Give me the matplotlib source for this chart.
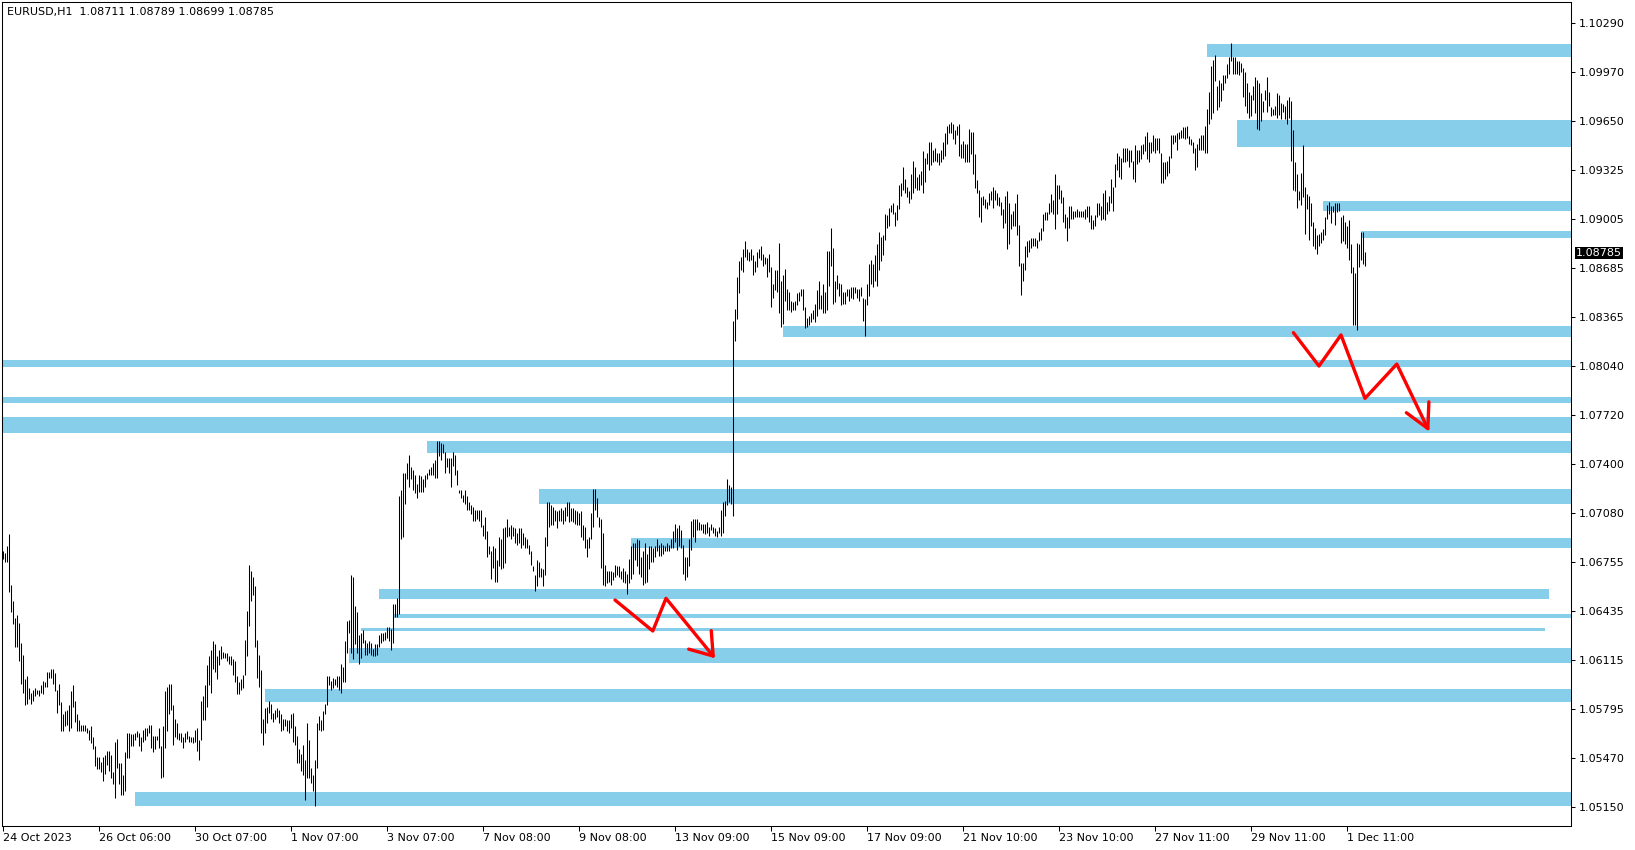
import numpy as np
import matplotlib
matplotlib.use("Agg")
import matplotlib.pyplot as plt
import matplotlib.transforms as mtransforms
from matplotlib.patches import Rectangle, FancyArrowPatch
from matplotlib.path import Path

# EURUSD H1 bars, one per hour from 24 Oct 2023 06:00
highs = [
    1.0683, 1.0682, 1.0686, 1.0694, 1.0661, 1.0650, 1.0639, 1.0641, 1.0636, 1.0623,
    1.0615, 1.0599, 1.0601, 1.0593, 1.0590, 1.0592, 1.0593, 1.0592, 1.0592, 1.0595,
    1.0598, 1.0597, 1.0604, 1.0604, 1.0606, 1.0606, 1.0603, 1.0592, 1.0596, 1.0584,
    1.0576, 1.0578, 1.0579, 1.0582, 1.0591, 1.0595, 1.0585, 1.0576, 1.0572, 1.0569,
    1.0569, 1.0569, 1.0567, 1.0566, 1.0568, 1.0561, 1.0555, 1.0548, 1.0548, 1.0545,
    1.0548, 1.0549, 1.0552, 1.0552, 1.0549, 1.0538, 1.0558, 1.0560, 1.0544, 1.0544,
    1.0536, 1.0551, 1.0564, 1.0564, 1.0563, 1.0563, 1.0564, 1.0565, 1.0564, 1.0561,
    1.0566, 1.0567, 1.0567, 1.0569, 1.0569, 1.0562, 1.0562, 1.0562, 1.0567, 1.0555,
    1.0568, 1.0591, 1.0594, 1.0596, 1.0596, 1.0582, 1.0573, 1.0570, 1.0564, 1.0564,
    1.0561, 1.0564, 1.0565, 1.0562, 1.0561, 1.0561, 1.0566, 1.0567, 1.0559, 1.0585,
    1.0588, 1.0595, 1.0608, 1.0614, 1.0618, 1.0624, 1.0622, 1.0614, 1.0618, 1.0621,
    1.0617, 1.0616, 1.0616, 1.0614, 1.0614, 1.0612, 1.0611, 1.0601, 1.0597, 1.0599,
    1.0602, 1.0625, 1.0644, 1.0674, 1.0670, 1.0666, 1.0660, 1.0625, 1.0615, 1.0605,
    1.0573, 1.0580, 1.0581, 1.0585, 1.0583, 1.0577, 1.0579, 1.0580, 1.0579, 1.0576,
    1.0573, 1.0573, 1.0572, 1.0572, 1.0576, 1.0577, 1.0568, 1.0562, 1.0553, 1.0550,
    1.0556, 1.0546, 1.0570, 1.0559, 1.0541, 1.0536, 1.0546, 1.0570, 1.0575, 1.0572,
    1.0578, 1.0583, 1.0601, 1.0601, 1.0598, 1.0600, 1.0599, 1.0601, 1.0601, 1.0609,
    1.0607, 1.0624, 1.0637, 1.0638, 1.0667, 1.0666, 1.0647, 1.0643, 1.0628, 1.0629,
    1.0631, 1.0625, 1.0623, 1.0624, 1.0623, 1.0619, 1.0622, 1.0622, 1.0628, 1.0629,
    1.0629, 1.0630, 1.0633, 1.0633, 1.0632, 1.0648, 1.0648, 1.0652, 1.0719, 1.0723,
    1.0734, 1.0734, 1.0741, 1.0746, 1.0738, 1.0736, 1.0733, 1.0727, 1.0733, 1.0732,
    1.0730, 1.0733, 1.0734, 1.0737, 1.0738, 1.0741, 1.0743, 1.0755, 1.0755, 1.0754,
    1.0753, 1.0748, 1.0744, 1.0744, 1.0744, 1.0748, 1.0746, 1.0736, 1.0723, 1.0723,
    1.0720, 1.0723, 1.0719, 1.0715, 1.0713, 1.0712, 1.0710, 1.0710, 1.0710, 1.0710,
    1.0700, 1.0705, 1.0696, 1.0686, 1.0683, 1.0686, 1.0685, 1.0677, 1.0692, 1.0691,
    1.0698, 1.0699, 1.0704, 1.0699, 1.0700, 1.0699, 1.0698, 1.0695, 1.0698, 1.0698,
    1.0695, 1.0692, 1.0691, 1.0687, 1.0683, 1.0673, 1.0667, 1.0677, 1.0676, 1.0672,
    1.0671, 1.0692, 1.0715, 1.0715, 1.0713, 1.0712, 1.0710, 1.0709, 1.0710, 1.0711,
    1.0710, 1.0712, 1.0715, 1.0715, 1.0711, 1.0711, 1.0710, 1.0709, 1.0708, 1.0709,
    1.0700, 1.0699, 1.0691, 1.0692, 1.0708, 1.0724, 1.0724, 1.0718, 1.0705, 1.0704,
    1.0695, 1.0674, 1.0670, 1.0670, 1.0670, 1.0669, 1.0674, 1.0673, 1.0673, 1.0670,
    1.0672, 1.0670, 1.0668, 1.0678, 1.0686, 1.0688, 1.0688, 1.0691, 1.0690, 1.0679,
    1.0683, 1.0688, 1.0681, 1.0686, 1.0686, 1.0685, 1.0686, 1.0691, 1.0687, 1.0688,
    1.0687, 1.0686, 1.0688, 1.0687, 1.0691, 1.0696, 1.0701, 1.0698, 1.0700, 1.0697,
    1.0687, 1.0679, 1.0679, 1.0691, 1.0703, 1.0704, 1.0704, 1.0704, 1.0702, 1.0701,
    1.0701, 1.0701, 1.0702, 1.0699, 1.0701, 1.0699, 1.0698, 1.0696, 1.0699, 1.0710,
    1.0715, 1.0716, 1.0730, 1.0726, 1.0725, 1.0834, 1.0842, 1.0863, 1.0873, 1.0876,
    1.0881, 1.0886, 1.0881, 1.0879, 1.0881, 1.0877, 1.0873, 1.0879, 1.0881, 1.0883,
    1.0878, 1.0876, 1.0875, 1.0878, 1.0869, 1.0858, 1.0867, 1.0867, 1.0885, 1.0860,
    1.0864, 1.0868, 1.0855, 1.0853, 1.0847, 1.0846, 1.0847, 1.0852, 1.0853, 1.0855,
    1.0855, 1.0843, 1.0836, 1.0837, 1.0839, 1.0841, 1.0845, 1.0854, 1.0860, 1.0851,
    1.0858, 1.0853, 1.0880, 1.0880, 1.0895, 1.0882, 1.0860, 1.0864, 1.0859, 1.0858,
    1.0853, 1.0853, 1.0855, 1.0855, 1.0856, 1.0856, 1.0856, 1.0855, 1.0855, 1.0856,
    1.0849, 1.0848, 1.0858, 1.0871, 1.0874, 1.0871, 1.0877, 1.0884, 1.0892, 1.0889,
    1.0890, 1.0904, 1.0903, 1.0908, 1.0910, 1.0911, 1.0905, 1.0910, 1.0923, 1.0924,
    1.0935, 1.0927, 1.0922, 1.0919, 1.0930, 1.0939, 1.0935, 1.0928, 1.0930, 1.0932,
    1.0945, 1.0941, 1.0944, 1.0951, 1.0951, 1.0946, 1.0947, 1.0944, 1.0944, 1.0946,
    1.0951, 1.0957, 1.0962, 1.0963, 1.0964, 1.0963, 1.0959, 1.0962, 1.0963, 1.0950,
    1.0952, 1.0950, 1.0950, 1.0960, 1.0958, 1.0958, 1.0943, 1.0926, 1.0920, 1.0915,
    1.0916, 1.0914, 1.0912, 1.0918, 1.0919, 1.0922, 1.0920, 1.0918, 1.0915, 1.0912,
    1.0907, 1.0916, 1.0919, 1.0911, 1.0904, 1.0906, 1.0911, 1.0917, 1.0897, 1.0872,
    1.0872, 1.0883, 1.0886, 1.0887, 1.0888, 1.0888, 1.0888, 1.0887, 1.0892, 1.0895,
    1.0904, 1.0905, 1.0905, 1.0911, 1.0917, 1.0913, 1.0930, 1.0923, 1.0923, 1.0920,
    1.0915, 1.0904, 1.0902, 1.0909, 1.0909, 1.0906, 1.0906, 1.0907, 1.0906, 1.0906,
    1.0906, 1.0907, 1.0909, 1.0909, 1.0903, 1.0900, 1.0903, 1.0911, 1.0911, 1.0909,
    1.0918, 1.0920, 1.0912, 1.0916, 1.0927, 1.0922, 1.0937, 1.0944, 1.0942, 1.0941,
    1.0947, 1.0947, 1.0947, 1.0946, 1.0946, 1.0939, 1.0949, 1.0946, 1.0946, 1.0949,
    1.0950, 1.0955, 1.0958, 1.0951, 1.0951, 1.0956, 1.0954, 1.0954, 1.0954, 1.0944,
    1.0938, 1.0938, 1.0939, 1.0942, 1.0956, 1.0956, 1.0956, 1.0957, 1.0958, 1.0959,
    1.0961, 1.0961, 1.0962, 1.0955, 1.0953, 1.0951, 1.0947, 1.0950, 1.0954, 1.0956,
    1.0956, 1.0962, 1.0973, 1.0984, 1.1001, 1.1005, 1.1008, 1.0988, 1.0992, 1.0990,
    1.0995, 1.0995, 1.1002, 1.1007, 1.1016, 1.1007, 1.1007, 1.1004, 1.1004, 1.1003,
    1.1000, 1.0997, 1.0990, 1.0984, 1.0982, 1.0988, 1.0994, 1.0992, 1.0990, 1.0983,
    1.0978, 1.0985, 1.0994, 1.0984, 1.0974, 1.0973, 1.0975, 1.0983, 1.0982, 1.0977,
    1.0976, 1.0975, 1.0979, 1.0981, 1.0978, 1.0959, 1.0938, 1.0930, 1.0919, 1.0931,
    1.0949, 1.0922, 1.0917, 1.0916, 1.0911, 1.0899, 1.0895, 1.0890, 1.0891, 1.0892,
    1.0894, 1.0902, 1.0910, 1.0912, 1.0909, 1.0909, 1.0911, 1.0911, 1.0911, 1.0902,
    1.0903, 1.0899, 1.0896, 1.0900, 1.0884, 1.0869, 1.0865, 1.0885, 1.0884, 1.0892,
    1.0892, 1.0879,
]
lows = [
    1.0678, 1.0676, 1.0676, 1.0656, 1.0643, 1.0635, 1.0620, 1.0620, 1.0611, 1.0596,
    1.0590, 1.0582, 1.0583, 1.0586, 1.0583, 1.0585, 1.0588, 1.0589, 1.0588, 1.0590,
    1.0589, 1.0594, 1.0594, 1.0600, 1.0600, 1.0596, 1.0591, 1.0577, 1.0582, 1.0565,
    1.0565, 1.0568, 1.0569, 1.0565, 1.0567, 1.0581, 1.0571, 1.0565, 1.0565, 1.0565,
    1.0565, 1.0565, 1.0564, 1.0559, 1.0557, 1.0553, 1.0542, 1.0540, 1.0540, 1.0538,
    1.0532, 1.0537, 1.0543, 1.0539, 1.0534, 1.0530, 1.0521, 1.0541, 1.0530, 1.0523,
    1.0523, 1.0526, 1.0547, 1.0547, 1.0555, 1.0555, 1.0559, 1.0561, 1.0555, 1.0552,
    1.0558, 1.0559, 1.0562, 1.0564, 1.0554, 1.0551, 1.0553, 1.0559, 1.0554, 1.0534,
    1.0535, 1.0554, 1.0565, 1.0576, 1.0579, 1.0556, 1.0561, 1.0560, 1.0559, 1.0558,
    1.0554, 1.0558, 1.0560, 1.0558, 1.0558, 1.0557, 1.0558, 1.0552, 1.0546, 1.0559,
    1.0572, 1.0572, 1.0581, 1.0595, 1.0590, 1.0606, 1.0604, 1.0599, 1.0608, 1.0612,
    1.0613, 1.0613, 1.0611, 1.0609, 1.0608, 1.0602, 1.0597, 1.0589, 1.0589, 1.0592,
    1.0593, 1.0602, 1.0614, 1.0634, 1.0650, 1.0654, 1.0620, 1.0600, 1.0594, 1.0564,
    1.0556, 1.0564, 1.0570, 1.0577, 1.0573, 1.0571, 1.0573, 1.0574, 1.0570, 1.0565,
    1.0566, 1.0568, 1.0565, 1.0564, 1.0567, 1.0558, 1.0556, 1.0544, 1.0544, 1.0539,
    1.0536, 1.0520, 1.0534, 1.0534, 1.0531, 1.0526, 1.0516, 1.0541, 1.0566, 1.0565,
    1.0566, 1.0576, 1.0582, 1.0595, 1.0592, 1.0593, 1.0595, 1.0594, 1.0592, 1.0590,
    1.0597, 1.0597, 1.0616, 1.0629, 1.0616, 1.0612, 1.0622, 1.0616, 1.0609, 1.0613,
    1.0623, 1.0615, 1.0615, 1.0616, 1.0615, 1.0614, 1.0614, 1.0615, 1.0620, 1.0623,
    1.0624, 1.0625, 1.0626, 1.0624, 1.0618, 1.0623, 1.0640, 1.0640, 1.0642, 1.0691,
    1.0692, 1.0714, 1.0730, 1.0725, 1.0730, 1.0723, 1.0721, 1.0718, 1.0722, 1.0722,
    1.0722, 1.0725, 1.0730, 1.0733, 1.0733, 1.0733, 1.0731, 1.0731, 1.0745, 1.0743,
    1.0747, 1.0734, 1.0738, 1.0734, 1.0725, 1.0739, 1.0733, 1.0726, 1.0721, 1.0718,
    1.0715, 1.0714, 1.0710, 1.0710, 1.0707, 1.0703, 1.0703, 1.0704, 1.0703, 1.0699,
    1.0693, 1.0691, 1.0679, 1.0681, 1.0665, 1.0672, 1.0663, 1.0663, 1.0673, 1.0671,
    1.0672, 1.0675, 1.0692, 1.0693, 1.0691, 1.0693, 1.0688, 1.0687, 1.0688, 1.0685,
    1.0687, 1.0685, 1.0685, 1.0681, 1.0674, 1.0670, 1.0657, 1.0660, 1.0666, 1.0666,
    1.0660, 1.0667, 1.0686, 1.0699, 1.0700, 1.0700, 1.0703, 1.0698, 1.0703, 1.0703,
    1.0701, 1.0703, 1.0706, 1.0702, 1.0703, 1.0702, 1.0701, 1.0700, 1.0700, 1.0692,
    1.0690, 1.0685, 1.0679, 1.0685, 1.0691, 1.0699, 1.0710, 1.0705, 1.0699, 1.0672,
    1.0661, 1.0660, 1.0662, 1.0663, 1.0661, 1.0664, 1.0666, 1.0667, 1.0666, 1.0665,
    1.0663, 1.0662, 1.0655, 1.0662, 1.0665, 1.0668, 1.0677, 1.0673, 1.0668, 1.0666,
    1.0661, 1.0662, 1.0663, 1.0671, 1.0676, 1.0676, 1.0679, 1.0683, 1.0680, 1.0680,
    1.0681, 1.0683, 1.0683, 1.0683, 1.0685, 1.0685, 1.0689, 1.0684, 1.0686, 1.0685,
    1.0668, 1.0664, 1.0666, 1.0673, 1.0684, 1.0692, 1.0689, 1.0697, 1.0697, 1.0697,
    1.0695, 1.0694, 1.0695, 1.0693, 1.0697, 1.0695, 1.0693, 1.0692, 1.0695, 1.0693,
    1.0695, 1.0706, 1.0713, 1.0715, 1.0714, 1.0706, 1.0821, 1.0835, 1.0852, 1.0867,
    1.0866, 1.0876, 1.0874, 1.0873, 1.0874, 1.0864, 1.0866, 1.0869, 1.0875, 1.0874,
    1.0870, 1.0871, 1.0863, 1.0866, 1.0843, 1.0849, 1.0854, 1.0853, 1.0839, 1.0830,
    1.0832, 1.0847, 1.0841, 1.0841, 1.0840, 1.0841, 1.0841, 1.0844, 1.0847, 1.0850,
    1.0841, 1.0829, 1.0830, 1.0831, 1.0833, 1.0835, 1.0833, 1.0837, 1.0842, 1.0842,
    1.0839, 1.0839, 1.0841, 1.0857, 1.0870, 1.0845, 1.0846, 1.0855, 1.0850, 1.0844,
    1.0845, 1.0845, 1.0850, 1.0847, 1.0849, 1.0848, 1.0852, 1.0849, 1.0847, 1.0850,
    1.0834, 1.0824, 1.0844, 1.0850, 1.0858, 1.0856, 1.0860, 1.0857, 1.0867, 1.0873,
    1.0877, 1.0887, 1.0895, 1.0896, 1.0905, 1.0904, 1.0896, 1.0900, 1.0907, 1.0916,
    1.0920, 1.0918, 1.0915, 1.0911, 1.0914, 1.0918, 1.0921, 1.0920, 1.0920, 1.0923,
    1.0918, 1.0925, 1.0937, 1.0933, 1.0936, 1.0938, 1.0939, 1.0938, 1.0936, 1.0938,
    1.0940, 1.0942, 1.0950, 1.0957, 1.0957, 1.0953, 1.0950, 1.0956, 1.0942, 1.0941,
    1.0941, 1.0938, 1.0938, 1.0938, 1.0943, 1.0930, 1.0921, 1.0918, 1.0902, 1.0899,
    1.0910, 1.0908, 1.0907, 1.0910, 1.0913, 1.0908, 1.0913, 1.0910, 1.0909, 1.0903,
    1.0895, 1.0898, 1.0881, 1.0884, 1.0894, 1.0896, 1.0896, 1.0890, 1.0870, 1.0851,
    1.0860, 1.0867, 1.0876, 1.0879, 1.0882, 1.0883, 1.0883, 1.0882, 1.0886, 1.0887,
    1.0893, 1.0900, 1.0900, 1.0904, 1.0905, 1.0904, 1.0894, 1.0904, 1.0914, 1.0911,
    1.0899, 1.0895, 1.0886, 1.0895, 1.0901, 1.0901, 1.0902, 1.0902, 1.0902, 1.0902,
    1.0902, 1.0901, 1.0902, 1.0899, 1.0894, 1.0894, 1.0896, 1.0902, 1.0903, 1.0900,
    1.0901, 1.0900, 1.0904, 1.0906, 1.0911, 1.0906, 1.0922, 1.0933, 1.0928, 1.0927,
    1.0938, 1.0938, 1.0939, 1.0935, 1.0938, 1.0927, 1.0925, 1.0937, 1.0938, 1.0940,
    1.0943, 1.0945, 1.0940, 1.0938, 1.0944, 1.0945, 1.0944, 1.0946, 1.0944, 1.0924,
    1.0924, 1.0927, 1.0929, 1.0931, 1.0941, 1.0950, 1.0951, 1.0946, 1.0953, 1.0954,
    1.0954, 1.0953, 1.0954, 1.0950, 1.0949, 1.0944, 1.0933, 1.0935, 1.0946, 1.0946,
    1.0946, 1.0944, 1.0944, 1.0963, 1.0966, 1.0970, 1.0991, 1.0972, 1.0974, 1.0978,
    1.0985, 1.0990, 1.0993, 1.0996, 1.1004, 1.0996, 1.0996, 1.0996, 1.0995, 1.0997,
    1.0981, 1.0975, 1.0970, 1.0967, 1.0968, 1.0979, 1.0970, 1.0960, 1.0959, 1.0965,
    1.0971, 1.0979, 1.0971, 1.0975, 1.0968, 1.0969, 1.0969, 1.0967, 1.0969, 1.0966,
    1.0971, 1.0966, 1.0963, 1.0967, 1.0939, 1.0920, 1.0919, 1.0908, 1.0913, 1.0910,
    1.0915, 1.0891, 1.0907, 1.0887, 1.0896, 1.0883, 1.0881, 1.0878, 1.0883, 1.0885,
    1.0887, 1.0890, 1.0901, 1.0904, 1.0898, 1.0905, 1.0897, 1.0905, 1.0906, 1.0885,
    1.0886, 1.0884, 1.0882, 1.0874, 1.0865, 1.0831, 1.0831, 1.0828, 1.0869, 1.0874,
    1.0871, 1.0870,
]

title = "EURUSD,H1  1.08711 1.08789 1.08699 1.08785"
last_close = 1.08785

price_ticks = [1.10290, 1.09970, 1.09650, 1.09325, 1.09005, 1.08685, 1.08365,
               1.08040, 1.07720, 1.07400, 1.07080, 1.06755, 1.06435, 1.06115,
               1.05795, 1.05470, 1.05150]

# a time label every 48 bars
time_labels = ["24 Oct 2023", "26 Oct 06:00", "30 Oct 07:00", "1 Nov 07:00",
               "3 Nov 07:00", "7 Nov 08:00", "9 Nov 08:00", "13 Nov 09:00",
               "15 Nov 09:00", "17 Nov 09:00", "21 Nov 10:00", "23 Nov 10:00",
               "27 Nov 11:00", "29 Nov 11:00", "1 Dec 11:00"]
time_label_bars = [48 * k for k in range(len(time_labels))]

# blue zones: top price, bottom price, first bar, last bar (None = runs off to the right)
zone_top = [1.10154, 1.09656, 1.09125, 1.08928, 1.08306, 1.08083, 1.07842,
            1.07711, 1.07552, 1.07237, 1.06916, 1.06581, 1.06417, 1.06326,
            1.06194, 1.05926, 1.05250]
zone_bottom = [1.10071, 1.09481, 1.09061, 1.08884, 1.08231, 1.08039, 1.07803,
               1.07606, 1.07475, 1.07140, 1.06852, 1.06516, 1.06393, 1.06306,
               1.06098, 1.05842, 1.05161]
zone_start = [602, 617, 660, 679, 390, -1, -1, -1, 212, 268, 314, 188, 195.5,
              179, 173, 131, 66]
zone_end = [None, None, None, None, None, None, None, None, None, None, None,
            773, None, 771, None, None, None]

# red zigzag arrows (bar index, price)
arrow1_bars = [306, 324.9, 331.5, 356]
arrow1_prices = [1.06509, 1.06306, 1.06520, 1.06127]
arrow2_bars = [645.2, 658, 669, 681, 696.9, 713.2]
arrow2_prices = [1.08262, 1.08043, 1.08247, 1.07831, 1.08056, 1.07612]

zone_color = "#87CEEB"

fig = plt.figure(figsize=(16.35, 8.5), dpi=100)
ax = fig.add_axes([2 / 1635, 24 / 850, 1569 / 1635, 824.5 / 850])
ax.set_xlim(-0.5, 784)
ax.set_ylim(1.050274, 1.10433)

for top, bottom, start, end in zip(zone_top, zone_bottom, zone_start, zone_end):
    if end is None:
        end = 800
    ax.add_patch(Rectangle((start, bottom), end - start, top - bottom,
                           facecolor=zone_color, edgecolor="none", zorder=1))

# price bars (high-low lines)
bars = np.arange(len(highs))
ax.vlines(bars, lows, highs, colors="black", linewidth=0.75, zorder=2, snap=True)

# the two drawn arrows
for xs, ys, hl, hw in [(arrow1_bars, arrow1_prices, 15, 10.5),
                       (arrow2_bars, arrow2_prices, 17, 9)]:
    arr = FancyArrowPatch(path=Path(list(zip(xs, ys))),
                          arrowstyle=f"->,head_length={hl},head_width={hw}",
                          mutation_scale=1, color="red", linewidth=2.4,
                          shrinkA=0, shrinkB=0, zorder=3)
    ax.add_patch(arr)

# axes look like the terminal window
for s in ax.spines.values():
    s.set_color("black")
    s.set_linewidth(0.75)

ax.yaxis.tick_right()
ax.set_yticks(price_ticks)
ax.set_yticklabels([f"{p:.5f}" for p in price_ticks])
ax.tick_params(axis="y", direction="out", length=3, width=0.75, pad=2.5,
               labelsize=8, colors="black")

ax.set_xticks(time_label_bars)
ax.set_xticklabels(time_labels, ha="left")
ax.tick_params(axis="x", direction="out", length=3.5, width=0.75, pad=1.5,
               labelsize=8, colors="black")

# last price marker on the price scale
trans = mtransforms.blended_transform_factory(ax.transAxes, ax.transData)
trans = mtransforms.offset_copy(trans, fig=fig, x=5, y=0, units="dots")
ax.text(1.0, last_close, f"{last_close:.5f}", transform=trans, color="white",
        fontsize=8, ha="left", va="center", clip_on=False,
        bbox=dict(facecolor="black", edgecolor="none", boxstyle="square,pad=0.12"))

fig.text(7 / 1635, 1 - 12 / 850, title, fontsize=8, ha="left", va="center")

fig.savefig("out.png", dpi=100, facecolor="white")
